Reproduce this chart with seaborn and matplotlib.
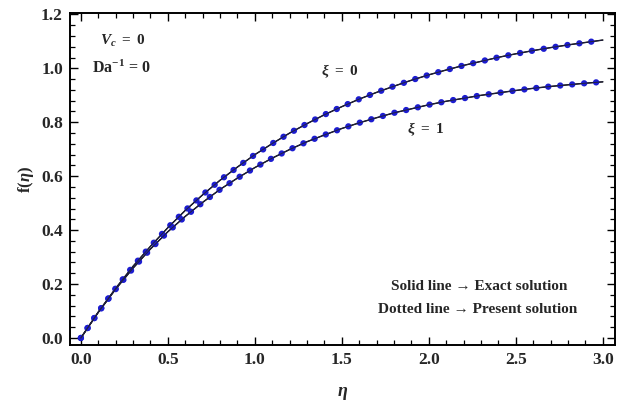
import numpy as np
import pandas as pd
import matplotlib
matplotlib.use("Agg")
import matplotlib.pyplot as plt
import seaborn as sns
from matplotlib.ticker import MultipleLocator

# ---- data ----
eta = [0.0, 0.1, 0.2, 0.3, 0.4, 0.5, 0.6, 0.7, 0.8, 0.9, 1.0,
       1.1, 1.2, 1.3, 1.4, 1.5, 1.6, 1.7, 1.8, 1.9, 2.0,
       2.1, 2.2, 2.3, 2.4, 2.5, 2.6, 2.7, 2.8, 2.9, 3.0]
f_xi0 = [0.000, 0.096, 0.184, 0.266, 0.340, 0.409, 0.473, 0.531, 0.585, 0.634, 0.680,
         0.721, 0.760, 0.795, 0.828, 0.858, 0.886, 0.911, 0.934, 0.956, 0.976,
         0.994, 1.011, 1.026, 1.041, 1.054, 1.066, 1.077, 1.087, 1.096, 1.105]
f_xi1 = [0.000, 0.095, 0.181, 0.259, 0.330, 0.394, 0.451, 0.503, 0.551, 0.593, 0.632,
         0.667, 0.699, 0.728, 0.753, 0.777, 0.798, 0.817, 0.835, 0.850, 0.865,
         0.878, 0.889, 0.900, 0.909, 0.918, 0.926, 0.933, 0.939, 0.945, 0.950]
x_ticks = [0.0, 0.5, 1.0, 1.5, 2.0, 2.5, 3.0]
y_ticks = [0.0, 0.2, 0.4, 0.6, 0.8, 1.0, 1.2]

sns.set_theme(style="ticks")
plt.rcParams["font.family"] = ["Liberation Serif", "DejaVu Serif"]
plt.rcParams["font.weight"] = "bold"
plt.rcParams["mathtext.fontset"] = "custom"
plt.rcParams["mathtext.rm"] = "Liberation Serif:bold"
plt.rcParams["mathtext.it"] = "Liberation Serif:italic:bold"
plt.rcParams["mathtext.bf"] = "Liberation Serif:bold"

fig = plt.figure(figsize=(6.24, 4.09), dpi=100)
ax = fig.add_axes([0.112, 0.1565, 0.8736, 0.8115])

df0 = pd.DataFrame({"eta": eta, "f": f_xi0})
df1 = pd.DataFrame({"eta": eta, "f": f_xi1})

blue = "#1c1cd0"
for df in (df0, df1):
    sns.lineplot(data=df, x="eta", y="f", ax=ax, color="black", lw=1.0, zorder=2)
    sns.lineplot(data=df, x="eta", y="f", ax=ax, color=blue, lw=4.6,
                 linestyle=(0, (0.01, 1.87)), zorder=3)
    ax.lines[-1].set_dash_capstyle("round")
    sns.lineplot(data=df, x="eta", y="f", ax=ax, color="#202040", lw=0.7, zorder=4)

ax.set_xlim(-0.063, 3.07)
ax.set_ylim(-0.026, 1.205)
ax.set_xticks(x_ticks)
ax.set_yticks(y_ticks)
ax.set_xticklabels([f"{v:.1f}" for v in x_ticks])
ax.set_yticklabels([f"{v:.1f}" for v in y_ticks])
ax.xaxis.set_minor_locator(MultipleLocator(0.1))
ax.yaxis.set_minor_locator(MultipleLocator(0.04))
ax.tick_params(which="both", direction="in", top=True, right=True, color="black")
ax.tick_params(which="major", length=6, width=1.0, labelsize=12.5, pad=5)
ax.tick_params(which="minor", length=3.5, width=0.9)
for lab in ax.get_xticklabels() + ax.get_yticklabels():
    lab.set_fontweight("bold")
for s in ax.spines.values():
    s.set_linewidth(1.4)
    s.set_color("black")

ax.set_xlabel(r"$\eta$", fontsize=13, labelpad=12)
ax.set_ylabel(r"f($\eta$)", fontsize=12, fontweight="bold", labelpad=4)

ax.text(0.11, 1.10, r"$V_c\ =\ 0$", fontsize=11, ha="left", va="center")
ax.text(0.063, 1.0, r"Da$^{-\mathbf{1}}$ = 0", fontsize=11.5, ha="left", va="center", fontweight="bold")
ax.text(1.49, 0.99, r"$\xi\ =\ 0$", fontsize=11, ha="center", va="center")
ax.text(1.98, 0.773, r"$\xi\ =\ 1$", fontsize=11, ha="center", va="center")
ax.text(2.29, 0.19, "Solid line → Exact solution", fontsize=11, ha="center", va="center", fontweight="bold")
ax.text(2.28, 0.104, "Dotted line → Present solution", fontsize=11, ha="center", va="center", fontweight="bold")

fig.savefig("out.png", dpi=100)
